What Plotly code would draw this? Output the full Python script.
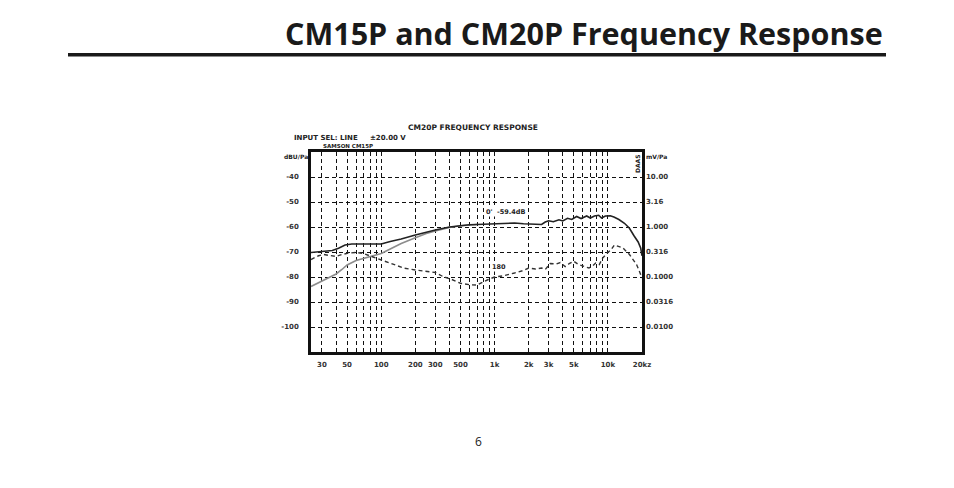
import numpy as np
import plotly.graph_objects as go

# =============================================================================
# DATA
# =============================================================================

# CM20P, 0 degrees (black solid)
freq_0deg = [24, 30, 37, 42, 48, 55, 70, 90, 100, 120, 150, 200, 250, 300, 400, 500,
             600, 800, 1000, 1300, 1500, 1800, 2300, 2600, 2800, 3000, 3300, 3700,
             4000, 4400, 4800, 5300, 5800, 6500, 7000, 7600, 8300, 8800, 9500,
             10500, 11300, 12500, 14000, 15500, 17000, 18500, 19500, 20000]
db_0deg = [-70.2, -69.8, -69.4, -68.5, -67.2, -66.8, -66.8, -66.9, -66.8, -65.8, -64.8,
           -63.2, -62.0, -61.2, -60.0, -59.4, -59.1, -58.9, -58.8, -58.6, -58.4, -58.7,
           -59.0, -59.0, -58.0, -57.5, -57.9, -57.1, -57.6, -56.5, -57.0, -55.8, -56.6,
           -55.6, -56.4, -55.6, -55.3, -56.4, -55.6, -55.5, -56.0, -57.0, -58.5, -60.5,
           -63.5, -66.0, -68.5, -71.5]

# CM15P (gray solid, merges with the black curve above ~300 Hz)
freq_cm15 = [24, 30, 35, 40, 45, 50, 60, 70, 80, 100, 120, 150, 200, 250, 300, 400,
             500, 600, 700]
db_cm15 = [-83.8, -81.5, -80.0, -78.8, -77.0, -75.2, -73.4, -72.5, -71.8, -70.6, -68.8,
           -66.6, -64.3, -62.6, -61.6, -60.2, -59.5, -59.2, -59.0]

# CM20P, 180 degrees (black dashed)
freq_180deg = [24, 28, 31, 35, 40, 45, 52, 60, 70, 80, 100, 130, 160, 200, 250, 300,
               350, 420, 500, 600, 700, 780, 880, 1000, 1200, 1500, 1800, 2000, 2300,
               2600, 2800, 3100, 3500, 3800, 4200, 4600, 5000, 5500, 6200, 6800, 7300,
               7800, 8400, 9000, 9900, 10700, 11400, 12200, 13500, 15500, 17900,
               19000, 20000]
db_180deg = [-73.0, -71.5, -71.0, -71.5, -71.8, -71.0, -70.4, -70.2, -70.6, -71.6, -73.1,
             -75.0, -76.5, -77.2, -77.6, -78.2, -79.8, -81.0, -82.5, -83.1, -83.2, -82.0,
             -81.0, -80.0, -79.5, -78.4, -77.4, -76.4, -76.8, -76.4, -77.0, -74.6, -74.8,
             -74.2, -75.8, -74.5, -73.7, -75.0, -75.8, -76.4, -75.6, -74.4, -75.0, -72.4,
             -70.4, -69.0, -67.2, -67.6, -68.3, -71.0, -75.0, -77.8, -80.4]

# axis ticks
x_tickvals = [30, 50, 100, 200, 300, 500, 1000, 2000, 3000, 5000, 10000, 20000]
x_ticktext = ['30', '50', '100', '200', '300', '500', '1k', '2k', '3k', '5k', '10k', '20kz']
y_tickvals = [-100, -90, -80, -70, -60, -50, -40]
y_ticktext_dbu = ['-100', '-90', '-80', '-70', '-60', '-50', '-40']
y_ticktext_mv = ['0.0100', '0.0316', '0.1000', '0.316', '1.000', '3.16', '10.00']

# =============================================================================
# FIGURE
# =============================================================================

CHART_FONT = "DejaVu Sans"
# plot area on the page: x 311..642, y 152..352 (page has an 8px body margin)
PX0, PW, PY1, PH = 311, 331, 352, 200


def px(x):
    return (x - PX0) / PW


def py(y):
    return (PY1 - y) / PH


grid_minor = [m * 10 ** d for d in range(1, 5) for m in range(1, 10)
              if 24 <= m * 10 ** d <= 20000 and m * 10 ** d not in x_tickvals]

fig = go.Figure()

fig.add_trace(go.Scatter(x=freq_cm15, y=db_cm15, mode='lines',
                         line=dict(color='#8c8c8c', width=1.6), hoverinfo='skip'))
fig.add_trace(go.Scatter(x=freq_180deg, y=db_180deg, mode='lines',
                         line=dict(color='#333333', width=1.4, dash='4px,3px'),
                         hoverinfo='skip'))
fig.add_trace(go.Scatter(x=freq_0deg, y=db_0deg, mode='lines',
                         line=dict(color='#222222', width=1.6), hoverinfo='skip'))
# dummy trace so the right-hand mV/Pa axis gets drawn
fig.add_trace(go.Scatter(x=[1000], y=[-70], yaxis='y2', mode='markers',
                         marker=dict(opacity=0), hoverinfo='skip'))

grid_style = dict(showgrid=True, gridcolor='#111111', gridwidth=1.2, griddash='4px,3px')
tick_font = dict(size=7, family=CHART_FONT, weight='bold', color='#333333')

fig.update_layout(
    width=954, height=488,
    margin=dict(l=PX0 - 8, r=954 - PX0 - PW + 8, t=PY1 - PH - 8, b=488 - PY1 + 8),
    paper_bgcolor='white', plot_bgcolor='white',
    showlegend=False,
    font=dict(family=CHART_FONT, color='#222222', size=7),
    xaxis=dict(
        type='log', range=[np.log10(24), np.log10(20000)],
        tickvals=x_tickvals, ticktext=x_ticktext, ticks='',
        ticklabelstandoff=4, tickfont=tick_font,
        showline=True, linecolor='#111111', linewidth=2.5, mirror=True,
        zeroline=False,
        minor=dict(tickvals=grid_minor, showgrid=True, gridcolor='#111111',
                   gridwidth=1.0, griddash='4px,3px', ticks=''),
        **grid_style
    ),
    yaxis=dict(
        range=[-110, -30], tickvals=y_tickvals, ticktext=y_ticktext_dbu, ticks='',
        ticklabelstandoff=8, tickfont=tick_font,
        showline=True, linecolor='#111111', linewidth=2.5, mirror=True,
        zeroline=False, **grid_style
    ),
    yaxis2=dict(
        range=[-110, -30], overlaying='y', side='right',
        tickvals=y_tickvals, ticktext=y_ticktext_mv, ticks='',
        ticklabelstandoff=3, tickfont=tick_font,
        showgrid=False, zeroline=False, showline=False
    ),
)

# page heading and rule
fig.add_annotation(text='<b>CM15P and CM20P Frequency Response</b>',
                   xref='paper', yref='paper', x=px(885), y=py(33),
                   xanchor='right', yanchor='middle', showarrow=False,
                   font=dict(family='Open Sans', size=30.5, color='#1a1a1a'))
fig.add_shape(type='line', xref='paper', yref='paper',
              x0=px(68), x1=px(886), y0=py(54.7), y1=py(54.7),
              line=dict(color='#1a1a1a', width=3.5))
fig.add_annotation(text='6', xref='paper', yref='paper',
                   x=px(478), y=py(452), showarrow=False,
                   font=dict(family='Open Sans', size=12, color='#222222'))

# chart captions
captions = [
    ('<b>CM20P FREQUENCY RESPONSE</b>', 473, 127, 'center', 0, 7.5),
    ('<b>INPUT SEL: LINE     ±20.00 V</b>', 293, 137.5, 'left', 0, 7),
    ('<b>SAMSON CM15P</b>', 322, 146.5, 'left', 0, 5.5),
    ('<b>dBU/Pa</b>', 309, 156, 'right', 0, 6),
    ('<b>mV/Pa</b>', 645, 156, 'left', 0, 6),
    ('<b>DAAS</b>', 637, 164, 'center', -90, 6),
]
for text, x_page, y_page, anchor, angle, size in captions:
    fig.add_annotation(text=text, xref='paper', yref='paper',
                       x=px(x_page), y=py(y_page), borderpad=0,
                       xanchor=anchor, yanchor='middle', showarrow=False,
                       textangle=angle, font=dict(size=size, family=CHART_FONT))

# curve labels
fig.add_annotation(text="<b>0'  -59.4dB</b>", x=np.log10(1250), y=-54.1,
                   showarrow=False, font=dict(size=6.5, family=CHART_FONT),
                   bgcolor='white', borderpad=0)
fig.add_annotation(text='<b>180</b>', x=np.log10(1085), y=-76.1,
                   showarrow=False, font=dict(size=6.5, family=CHART_FONT),
                   bgcolor='white', borderpad=0)

fig.write_html("out.html")
